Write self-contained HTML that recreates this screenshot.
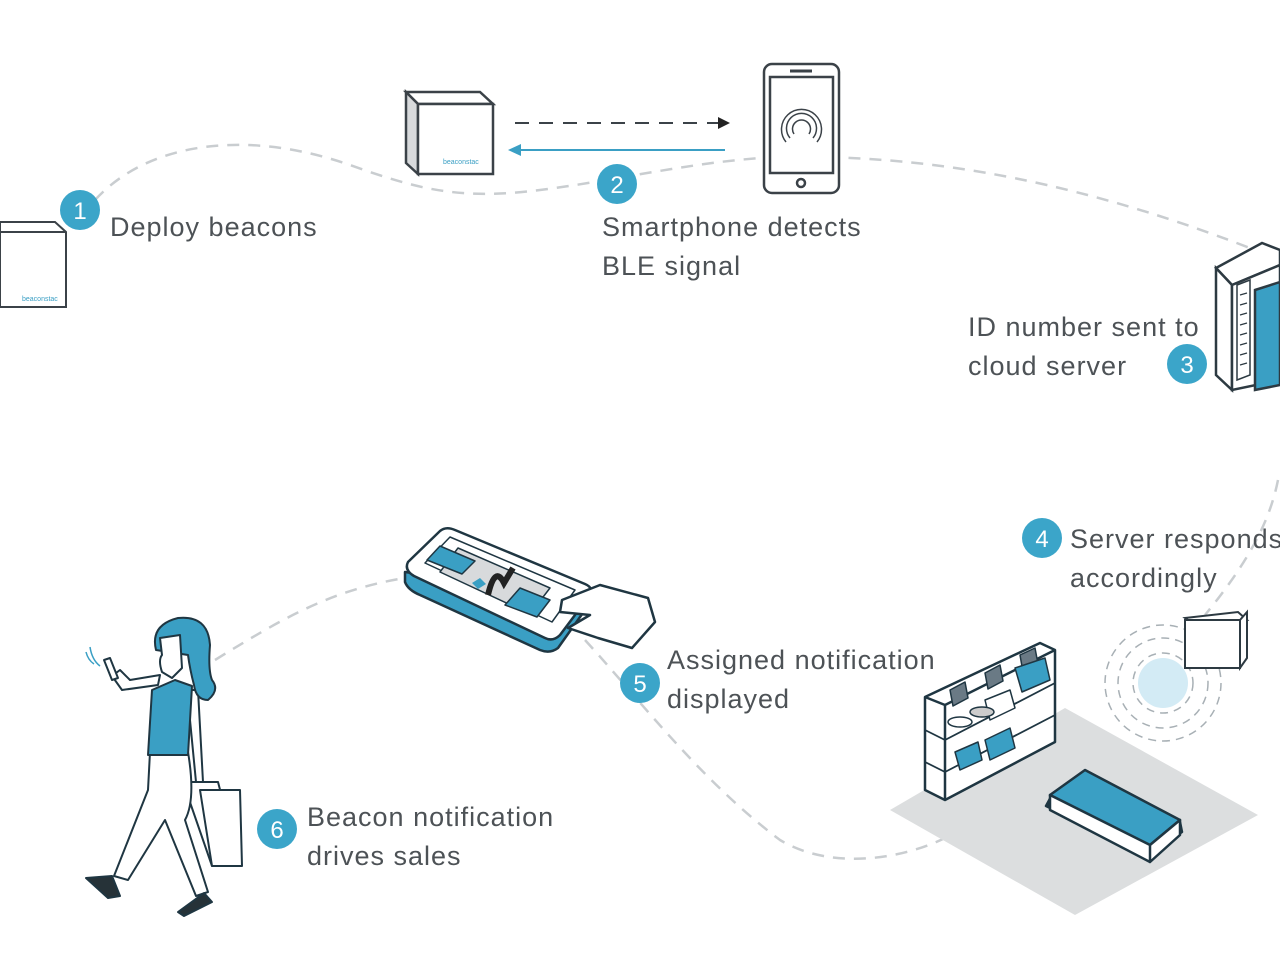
<!DOCTYPE html>
<html><head><meta charset="utf-8"><style>
html,body{margin:0;padding:0;background:#fff;width:1280px;height:960px;overflow:hidden}
svg{display:block}
text{font-family:"Liberation Sans",sans-serif;fill:#4d5256;font-size:27px;letter-spacing:1px}
.n{fill:#fff;font-size:24px;text-anchor:middle;letter-spacing:0}
</style></head><body>
<svg width="1280" height="960" viewBox="0 0 1280 960">
<g fill="none" stroke="#c9cdd0" stroke-width="2.5" stroke-dasharray="12 9">
<path d="M95 200 C150 140 250 130 350 165 C420 190 460 200 540 190 C620 180 700 160 780 157 C900 155 1050 170 1255 250"/>
<path d="M1278 480 C1270 520 1250 560 1205 615"/>
<path d="M215 660 C280 620 330 590 405 578"/>
<path d="M585 640 C640 700 700 780 780 840 C830 870 900 860 945 838"/>
</g>
<!-- beacon 1 -->
<g stroke="#3b4248" stroke-width="2" fill="#fff">
<path d="M0 222 L55 222 L66 232 L66 307 L0 307 Z"/>
<path d="M0 232 L66 232"/>
</g>
<text x="22" y="301" style="font-size:7px;fill:#3a9fc4;letter-spacing:0">beaconstac</text>
<!-- beacon 2 -->
<g stroke="#3b4248" stroke-width="2.5" fill="#fff">
<path d="M406 92 L480 92 L493 104 L418 104 Z"/>
<path d="M406 92 L418 104 L418 174 L406 163 Z" fill="#d8dadc"/>
<rect x="418" y="104" width="75" height="70"/>
</g>
<text x="443" y="164" style="font-size:7px;fill:#3a9fc4;letter-spacing:0">beaconstac</text>
<path d="M515 123 H720" stroke="#3b4248" stroke-width="2" stroke-dasharray="14 10"/>
<path d="M730 123 L718 117 L718 129Z" fill="#222"/>
<path d="M520 150 H725" stroke="#3a9fc4" stroke-width="2"/>
<path d="M508 150 L521 144 L521 156Z" fill="#3a9fc4"/>
<!-- phone -->
<g stroke="#3b4248" stroke-width="2.5" fill="#fff">
<rect x="764" y="64" width="75" height="129" rx="8"/>
<rect x="770" y="77" width="63" height="96"/>
<circle cx="801" cy="183" r="4"/>
<path d="M790 71 H812" stroke-width="3"/>
</g>
<g fill="none" stroke="#3b4248" stroke-width="1.5"><path d="M790 138 A15 15 0 1 1 813 138"/><path d="M786 142 A20 20 0 1 1 817 142"/><path d="M794 134 A9 9 0 1 1 809 134"/></g>
<!-- server -->
<g stroke="#2d3a42" stroke-width="2.5">
<path d="M1216 268 L1262 243 L1280 250 L1280 265 L1232 285 Z" fill="#fff"/>
<path d="M1216 268 L1216 375 L1232 390 L1232 285 Z" fill="#fff"/>
<path d="M1232 285 L1280 265 L1280 380 L1232 390 Z" fill="#fff"/>
<path d="M1237 285 L1250 280 L1250 375 L1237 380Z" fill="#fff" stroke-width="1.5"/>
<path d="M1255 290 L1280 282 L1280 385 L1255 390Z" fill="#3a9fc4"/>
</g>
<g stroke="#2d3a42" stroke-width="1.2"><path d="M1240 295 L1247 293 M1240 305 L1247 303 M1240 315 L1247 313 M1240 325 L1247 323 M1240 335 L1247 333 M1240 345 L1247 343 M1240 355 L1247 353 M1240 365 L1247 363"/></g>
<!-- hand phone -->
<g stroke="#1f3642" stroke-width="2.5" stroke-linejoin="round">
<path d="M405 572 L405 582 Q408 590 420 595 L540 650 Q550 654 558 648 L585 610 L585 598 Z" fill="#3a9fc4"/>
<path d="M408 562 Q404 570 414 576 L545 638 Q553 642 560 635 L590 595 Q594 588 585 584 L455 530 Q446 526 440 531 Z" fill="#fff"/>
<path d="M425 563 L450 537 L575 590 L552 622 Z" fill="#fff" stroke-width="1.5"/>
<path d="M440 572 L458 548 L550 588 L530 614 Z" fill="#d8dadc" stroke-width="1.5"/>
<path d="M427 560 L440 546 L475 561 L462 574Z M505 605 L520 588 L550 600 L537 617Z" fill="#3a9fc4" stroke-width="1.5"/>
<path d="M562 600 L600 585 L648 598 L655 622 L632 648 L598 638 L568 628 L590 615 L560 612Z" fill="#fff"/>
</g>
<path d="M488 595 Q495 565 504 583 L513 568" stroke="#222" stroke-width="6" fill="none"/>
<path d="M472 583 l8 -5 l6 6 l-8 5z" fill="#3a9fc4"/>
<!-- woman -->
<g stroke="#1f3642" stroke-width="2" stroke-linejoin="round">
<path d="M186 690 L198 690 L203 782 L196 782 L190 720 Z" fill="#fff"/>
<path d="M183 782 L218 782 L240 866 L212 866 Z" fill="#fff"/>
<path d="M200 790 L240 790 L242 866 L212 866Z" fill="#fff"/>
<path d="M150 752 L188 752 Q196 800 185 820 L208 892 L196 896 L165 820 L128 880 L114 876 L148 790 Z" fill="#fff"/>
<path d="M152 690 L175 680 L192 686 L188 755 L148 755Z" fill="#3a9fc4"/>
<path d="M158 685 L122 690 L112 676 L120 670 L130 680 L160 675Z" fill="#fff"/>
<path d="M104 660 L110 658 L118 678 L112 680Z" fill="#fff"/>
<path d="M156 650 Q150 625 178 618 Q208 615 210 645 Q208 670 212 680 Q220 690 208 700 Q196 700 194 685 Q190 670 188 655 Z" fill="#3a9fc4"/>
<path d="M160 638 L180 635 L182 668 L172 678 L162 672 Q158 660 162 655 Z" fill="#fff"/>
<path d="M86 878 L112 876 L120 896 L108 898 Z" fill="#263238"/>
<path d="M178 912 L204 893 L212 902 L184 916 Z" fill="#263238"/>
</g>
<path d="M86 652 Q88 660 94 664 M90 647 Q92 660 100 666" stroke="#3a9fc4" stroke-width="1.5" fill="none"/>
<!-- store -->
<path d="M890 810 L1065 708 L1258 815 L1075 915 Z" fill="#dcdedf"/>
<g stroke="#1f3642" stroke-width="2.5" stroke-linejoin="round">
<path d="M925 697 L1040 643 L1055 650 L1055 742 L945 800 L925 790 Z" fill="#fff"/>
<path d="M925 697 L945 705 L1055 650 M945 705 L945 800" fill="none"/>
<path d="M945 740 L1055 683 M945 772 L1055 715 M925 730 L945 740 M925 762 L945 772" fill="none" stroke-width="1.8"/>
<path d="M950 690 L965 682 L968 698 L953 706Z M985 673 L1000 665 L1003 681 L988 689Z M1020 655 L1035 648 L1038 664 L1023 672Z" fill="#6a7a85" stroke-width="1.5"/>
<path d="M1015 668 L1045 658 L1050 680 L1022 692Z M985 740 L1010 728 L1015 748 L990 760Z M955 752 L978 742 L982 760 L960 770Z" fill="#3a9fc4" stroke-width="1.5"/>
<path d="M985 700 L1010 690 L1015 708 L990 720Z" fill="#fff" stroke-width="1.5"/>
<ellipse cx="960" cy="722" rx="12" ry="5" fill="#fff" stroke-width="1.5"/>
<ellipse cx="982" cy="712" rx="12" ry="5" fill="#ccc" stroke-width="1.5"/>
<path d="M1046 806 L1148 855 L1182 832 L1180 822 L1090 775 L1052 795 Z" fill="#1f3642"/>
<path d="M1050 795 L1085 770 L1180 820 L1150 845 Z" fill="#3a9fc4"/>
<path d="M1050 795 L1050 810 L1150 862 L1150 845Z M1150 845 L1180 820 L1180 835 L1150 862Z" fill="#fff"/>
</g>
<g fill="none" stroke="#a8b0b5" stroke-width="1.5" stroke-dasharray="8 6">
<circle cx="1163" cy="683" r="30"/><circle cx="1163" cy="683" r="45"/><circle cx="1163" cy="683" r="58"/>
</g>
<circle cx="1163" cy="683" r="25" fill="#d3ebf5"/>
<g stroke="#2d3a42" stroke-width="2" fill="#fff">
<path d="M1185 618 L1238 612 L1247 620 L1195 625Z"/>
<rect x="1185" y="620" width="55" height="48"/>
<path d="M1240 620 L1247 612 L1247 658 L1240 668Z"/>
</g>
<!-- numbers -->
<g fill="#3ba5c9">
<circle cx="80" cy="210" r="20"/><circle cx="617" cy="184" r="20"/><circle cx="1187" cy="364" r="20"/>
<circle cx="1042" cy="538" r="20"/><circle cx="640" cy="683" r="20"/><circle cx="277" cy="829" r="20"/>
</g>
<text class="n" x="80" y="219">1</text><text class="n" x="617" y="193">2</text><text class="n" x="1187" y="373">3</text>
<text class="n" x="1042" y="547">4</text><text class="n" x="640" y="692">5</text><text class="n" x="277" y="838">6</text>
<text x="110" y="236">Deploy beacons</text>
<text x="602" y="236">Smartphone detects</text><text x="602" y="275">BLE signal</text>
<text x="968" y="336">ID number sent to</text><text x="968" y="375">cloud server</text>
<text x="1070" y="548">Server responds</text><text x="1070" y="587">accordingly</text>
<text x="667" y="669">Assigned notification</text><text x="667" y="708">displayed</text>
<text x="307" y="826">Beacon notification</text><text x="307" y="865">drives sales</text>
</svg>
</body></html>
